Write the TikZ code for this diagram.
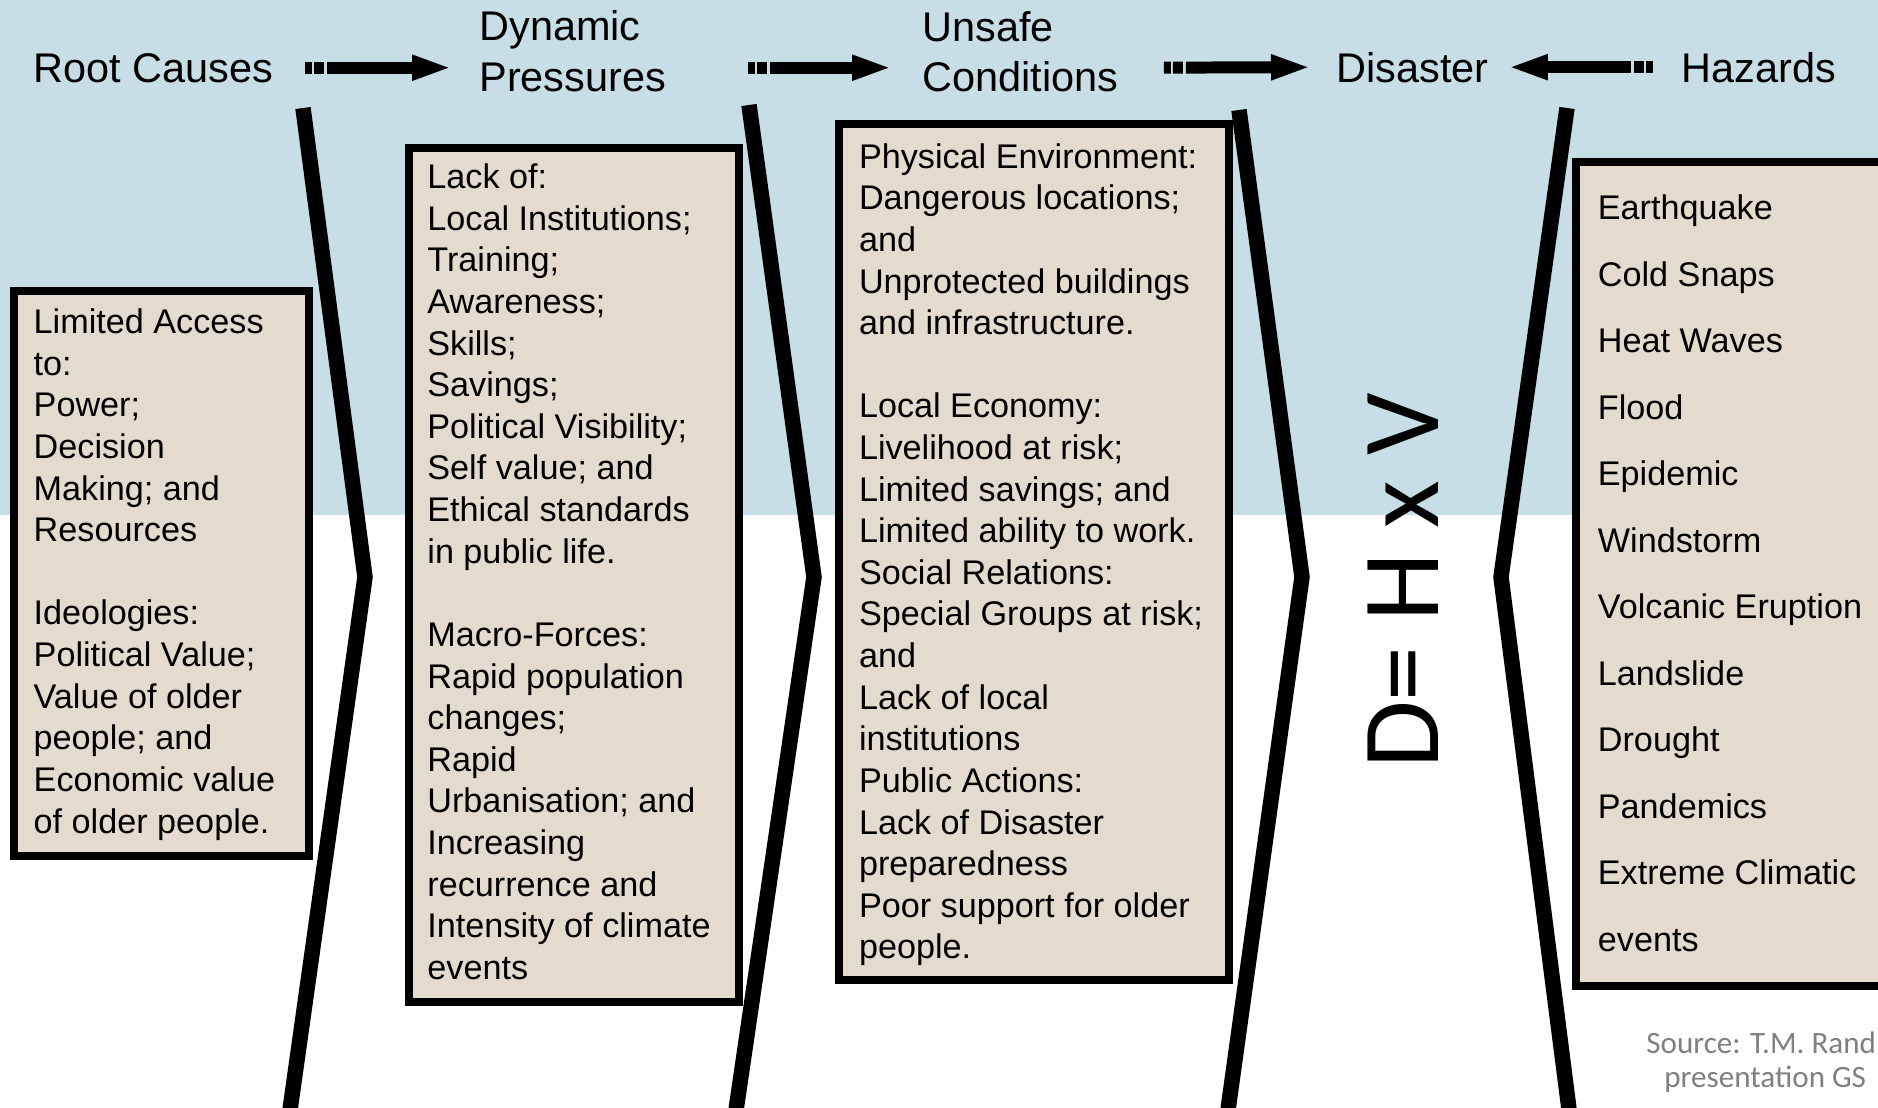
\documentclass[tikz,border=0pt]{standalone}
\usepackage{fontspec}
\setmainfont{Liberation Sans}
\newfontfamily\calibri{Carlito}
\usetikzlibrary{arrows.meta}
\definecolor{skyband}{RGB}{200,222,230}
\definecolor{sandbox}{RGB}{227,219,205}
\definecolor{srcgray}{RGB}{128,128,128}
\begin{document}
\begin{tikzpicture}[>=latex, thick,
                head/.style={inner sep=0pt, font=\fontsize{11.8}{14.3}\selectfont},
                list/.style={inner sep=0pt, anchor=north west, align=left, font=\fontsize{9.73}{11.84}\selectfont},
                sandpanel/.style={draw=black, line width=2.3pt, fill=sandbox},
                chevron/.style={line width=4.4pt},
                bigarrow/.style={line width=3.41pt, -{Triangle[length=4mm, width=2.3mm]}, dash pattern=on 0.7mm off 0.2mm on 1mm off 0.3mm on 3cm off 1cm}]
                \useasboundingbox (0,0) rectangle (18.78,11.07);
                \fill [skyband] (0,5.92) rectangle (18.78,11.07);
                % chevrons
                \draw [chevron] (3.03,9.99)--(3.65,5.30)--(2.89,-0.1);
                \draw [chevron] (7.49,10.02)--(8.14,5.30)--(7.35,-0.1);
                \draw [chevron] (12.39,9.97)--(13.02,5.30)--(12.27,-0.1);
                \draw [chevron] (15.67,9.99)--(15.01,5.30)--(15.70,-0.1);
                \draw [sandpanel] (0.14,2.51) rectangle (3.09,8.16);
                \draw [sandpanel] (4.09,1.05) rectangle (7.39,9.59);
                \draw [sandpanel] (8.39,1.27) rectangle (12.29,9.83);
                \draw [sandpanel] (15.76,1.21) rectangle (19.00,9.45);
                \node [head, anchor=base west] (root) at (0.32,10.25) {Root Causes};
                \node [head, anchor=north west, align=left] (dyn) at (4.78,10.975) {Dynamic\\Pressures};
                \node [head, anchor=north west, align=left] (unsafe) at (9.21,10.97) {Unsafe\\Conditions};
                \node [head, anchor=base west] (disaster) at (13.35,10.25) {Disaster};
                \node [head, anchor=base west] (hazards) at (16.80,10.25) {Hazards};
                \draw [bigarrow, shorten <=3mm, shorten >=2.6mm] (root.east) -- (root.east -| dyn.west);
                \draw [bigarrow, shorten <=8mm, shorten >=2.9mm] (dyn.east |- root.east) -- (unsafe.west |- root.east);
                \draw [bigarrow, shorten <=4.4mm, shorten >=2.4mm] (unsafe.east |- root.east) -- (disaster.west);
                \draw [bigarrow, shorten <=2.7mm, shorten >=1.8mm] (hazards.west) -- (disaster.east);
                \node [list] (rootlist) at (0.323,7.995) {Limited Access\\to:\\Power;\\Decision\\Making; and\\Resources\\[\baselineskip]Ideologies:\\Political Value;\\Value of older\\people; and\\Economic value\\of older people.};
                \node [list] (dynlist) at (4.26,9.445) {Lack of:\\Local Institutions;\\Training;\\Awareness;\\Skills;\\Savings;\\Political Visibility;\\Self value; and\\Ethical standards\\in public life.\\[\baselineskip]Macro-Forces:\\Rapid population\\changes;\\Rapid\\Urbanisation; and\\Increasing\\recurrence and\\Intensity of climate\\events};
                \node [list] (unsafelist) at (8.576,9.65) {Physical Environment:\\Dangerous locations;\\and\\Unprotected buildings\\and infrastructure.\\[\baselineskip]Local Economy:\\Livelihood at risk;\\Limited savings; and\\Limited ability to work.\\Social Relations:\\Special Groups at risk;\\and\\Lack of local\\institutions\\Public Actions:\\Lack of Disaster\\preparedness\\Poor support for older\\people.};
                \node [list, font=\fontsize{9.73}{18.92}\selectfont] (hazlist) at (15.965,9.135) {Earthquake\\Cold Snaps\\Heat Waves\\Flood\\Epidemic\\Windstorm\\Volcanic Eruption\\Landslide\\Drought\\Pandemics\\Extreme Climatic\\events};
                \node [inner sep=0pt, rotate=90, font=\calibri\fontsize{31.3}{36}\selectfont] (dhv) at (14.03,5.26) {D= H x V};
                \node [inner sep=0pt, anchor=base west, text=srcgray, font=\calibri\fontsize{8.85}{9.7}\selectfont] (srcA) at (16.45,0.54) {Source: T.M. Rand};
                \node [inner sep=0pt, anchor=base west, text=srcgray, font=\calibri\fontsize{8.85}{9.7}\selectfont] (srcB) at (16.63,0.20) {presentation GS};
            \end{tikzpicture}
\end{document}
